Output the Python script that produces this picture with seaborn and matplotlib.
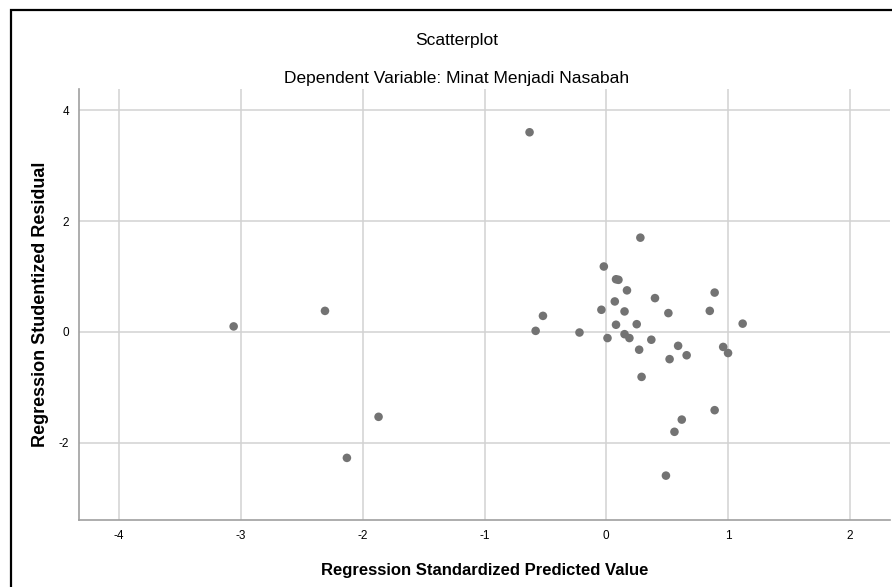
import matplotlib
matplotlib.use("Agg")
import matplotlib.pyplot as plt
import seaborn as sns
import pandas as pd
from matplotlib.patches import Rectangle

predicted = [-3.06, -2.31, -1.87, -2.13, -0.63, -0.58, -0.52, -0.22, -0.02, -0.04,
             0.01, 0.08, 0.10, 0.07, 0.08, 0.15, 0.17, 0.15, 0.19, 0.25,
             0.27, 0.28, 0.29, 0.37, 0.40, 0.51, 0.52, 0.59, 0.66, 0.85,
             0.89, 0.96, 1.00, 1.12, 0.89, 0.62, 0.56, 0.49]
residual = [0.10, 0.38, -1.53, -2.27, 3.60, 0.02, 0.29, -0.01, 1.18, 0.40,
            -0.11, 0.95, 0.94, 0.55, 0.13, 0.37, 0.75, -0.04, -0.11, 0.14,
            -0.32, 1.70, -0.81, -0.14, 0.61, 0.34, -0.49, -0.25, -0.42, 0.38,
            0.71, -0.27, -0.38, 0.15, -1.41, -1.58, -1.80, -2.59]
x_ticks = [-4, -3, -2, -1, 0, 1, 2]
y_ticks = [-2, 0, 2, 4]

sns.set_theme(style="white")
plt.rcParams['font.family'] = ['Liberation Sans', 'DejaVu Sans']
plt.rcParams['text.color'] = 'black'
plt.rcParams['axes.labelcolor'] = 'black'

df = pd.DataFrame({"pred": predicted, "res": residual})

fig = plt.figure(figsize=(8.92, 5.87), dpi=100)
ax = fig.add_axes([79/892, 1-520/587, (890-79)/892, (520-89)/587])

sns.scatterplot(data=df, x="pred", y="res", ax=ax, color="#737373",
                s=38, edgecolor="none", zorder=3)

ax.set_xlim(-4.33, 2.33)
ax.set_ylim(-3.39, 4.38)
ax.set_xticks(x_ticks)
ax.set_yticks(y_ticks)
ax.set_xticklabels([str(t) for t in x_ticks])
ax.set_yticklabels([str(t) for t in y_ticks])
ax.grid(True, color="#d2d2d2", linewidth=1.1)
ax.set_axisbelow(True)
for side in ["top", "right"]:
    ax.spines[side].set_visible(False)
for side in ["left", "bottom"]:
    ax.spines[side].set_color("#a0a0a0")
    ax.spines[side].set_linewidth(1.2)
ax.tick_params(axis="both", length=0, labelsize=8.5, colors="black", pad=7)

ax.set_xlabel("Regression Standardized Predicted Value", fontsize=12,
              fontweight="bold", labelpad=15, color="black")
ax.set_ylabel("Regression Studentized Residual", fontsize=13,
              fontweight="bold", labelpad=7, color="black")

fig.text(457/892, 1-40/587, "Scatterplot", ha="center", va="center",
         fontsize=12.5, color="black")
fig.text(457/892, 1-79/587, "Dependent Variable: Minat Menjadi Nasabah",
         ha="center", va="center", fontsize=12.5, color="black")

fig.patches.append(Rectangle((11/892, -0.1), 1.2, 1 - 10/587 + 0.1,
                             transform=fig.transFigure, fill=False,
                             edgecolor="black", linewidth=1.6))

fig.savefig("out.png", dpi=100)
